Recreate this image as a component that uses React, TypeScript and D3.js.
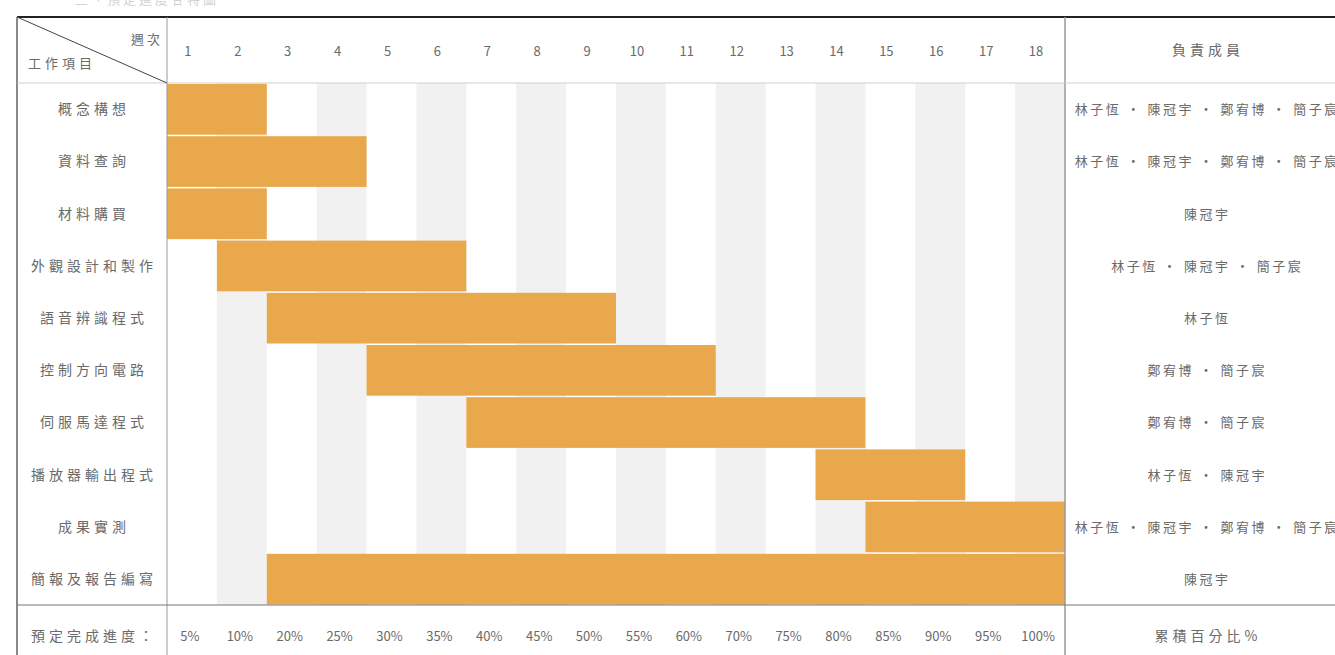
import React from "react";
import * as d3 from "d3";

const weeks = d3.range(1, 19).map(String);
const tasks = ["概念構想", "資料查詢", "材料購買", "外觀設計和製作", "語音辨識程式", "控制方向電路", "伺服馬達程式", "播放器輸出程式", "成果實測", "簡報及報告編寫"];
const startWeek = [1, 1, 1, 2, 3, 5, 7, 14, 15, 3];
const endWeek = [2, 4, 2, 6, 9, 11, 14, 16, 18, 18];
const members = [
  "林子恆 · 陳冠宇 · 鄭宥博 · 簡子宸",
  "林子恆 · 陳冠宇 · 鄭宥博 · 簡子宸",
  "陳冠宇",
  "林子恆 · 陳冠宇 · 簡子宸",
  "林子恆",
  "鄭宥博 · 簡子宸",
  "鄭宥博 · 簡子宸",
  "林子恆 · 陳冠宇",
  "林子恆 · 陳冠宇 · 鄭宥博 · 簡子宸",
  "陳冠宇",
];
const progress = ["5%", "10%", "20%", "25%", "30%", "35%", "40%", "45%", "50%", "55%", "60%", "70%", "75%", "80%", "85%", "90%", "95%", "100%"];

const W = 1335, H = 655;
const tableL = 17, tableT = 17, leftW = 167, gridR = 1065, headB = 83, gridB = 605;
const FONT = "'Noto Sans CJK TC', 'Noto Sans', sans-serif";
const TXT = "#6a6a6a";
const FS = 14, LS = 4;
const NFS = 13, NLS = 2.5;

export default function App() {
  const x = d3.scaleBand().domain(weeks).range([leftW, gridR]).paddingInner(0).paddingOuter(0);
  const y = d3.scaleBand().domain(tasks).range([headB, gridB]);
  const bw = x.bandwidth();
  const rightC = 1206;
  const leftC = (tableL + leftW) / 2 + LS / 2;
  return (
    <svg width={W} height={H} style={{ position: "fixed", left: 0, top: 0, background: "#fff" }} fontFamily={FONT}>
      <rect x={0} y={0} width={W} height={H} fill="#fff" />
      <text x={75} y={4} fontSize={13} fill="#d2d2d2" letterSpacing={3}>三、預定進度甘特圖</text>
      {weeks.map((w, i) => i % 2 === 1 ? (
        <rect key={"s" + w} x={x(w)} y={headB} width={bw} height={gridB - headB} fill="#f1f1f1" />
      ) : null)}
      {tasks.map((t, i) => (
        <rect key={"b" + t} x={x(String(startWeek[i]))!} y={y(t)! + 1}
          width={x(String(endWeek[i]))! + bw - x(String(startWeek[i]))!} height={y.bandwidth() - 1.5}
          fill="#e8a84b" />
      ))}
      <line x1={tableL} x2={W} y1={tableT} y2={tableT} stroke="#222" strokeWidth={2} />
      <line x1={tableL} x2={tableL} y1={tableT} y2={H} stroke="#888" strokeWidth={2} />
      <line x1={leftW} x2={leftW} y1={tableT} y2={H} stroke="#999" strokeWidth={1} />
      <line x1={gridR} x2={gridR} y1={tableT} y2={H} stroke="#999" strokeWidth={1.5} />
      <line x1={tableL} x2={W} y1={headB} y2={headB} stroke="#cfcfcf" strokeWidth={1} />
      <line x1={tableL} x2={W} y1={gridB} y2={gridB} stroke="#777" strokeWidth={1} />
      <line x1={tableL} x2={leftW} y1={tableT} y2={headB} stroke="#444" strokeWidth={1} />
      <text x={163} y={44} fontSize={13} fill={TXT} textAnchor="end" letterSpacing={3}>週次</text>
      <text x={28} y={68} fontSize={13} fill={TXT} letterSpacing={4}>工作項目</text>
      {weeks.map(w => (
        <text key={"h" + w} x={x(w)! + bw / 2 - 4} y={56} fontSize={13} fill={TXT} textAnchor="middle">{w}</text>
      ))}
      <text x={rightC + LS / 2} y={55} fontSize={FS} fill={TXT} textAnchor="middle" letterSpacing={LS}>負責成員</text>
      {tasks.map((t, i) => (
        <g key={"l" + t}>
          <text x={leftC} y={y(t)! + y.bandwidth() / 2 + 5} fontSize={FS} fill={TXT} textAnchor="middle" letterSpacing={LS}>{t}</text>
          <text x={rightC + NLS / 2} y={y(t)! + y.bandwidth() / 2 + 5} fontSize={NFS} fill={TXT} textAnchor="middle" letterSpacing={NLS}>{members[i]}</text>
        </g>
      ))}
      <text x={leftC} y={641} fontSize={FS} fill={TXT} textAnchor="middle" letterSpacing={LS}>預定完成進度：</text>
      {progress.map((p, i) => (
        <text key={"p" + i} x={x(weeks[i])! + bw / 2 - 2} y={641} fontSize={13} fill={TXT} textAnchor="middle">{p}</text>
      ))}
      <text x={rightC + LS / 2} y={641} fontSize={FS} fill={TXT} textAnchor="middle" letterSpacing={LS}>累積百分比%</text>
    </svg>
  );
}
